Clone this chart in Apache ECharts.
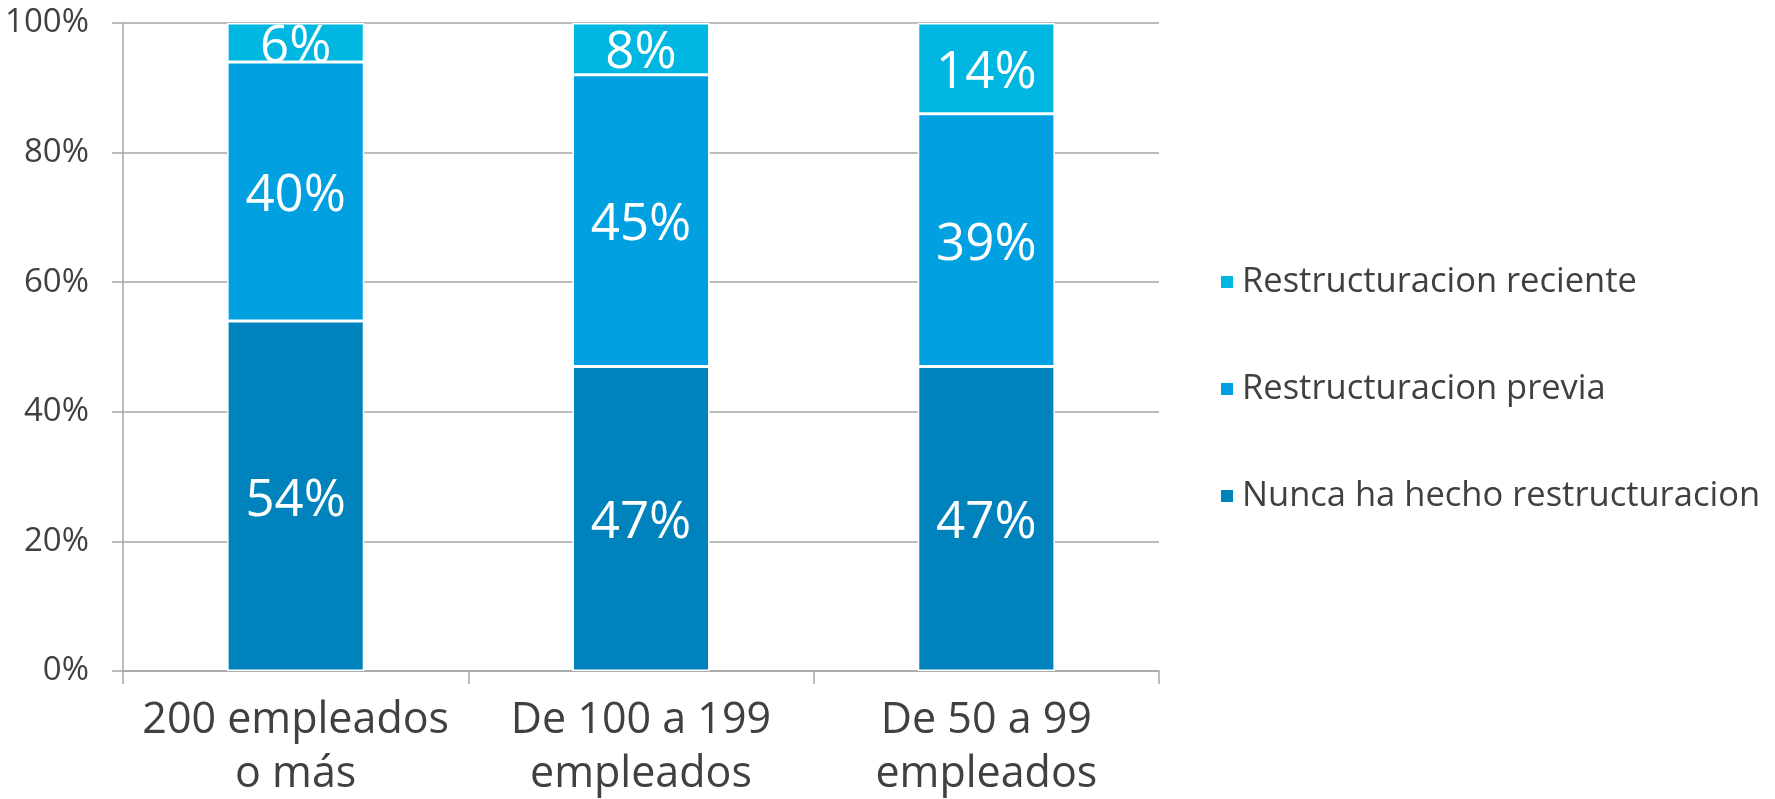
<!DOCTYPE html>
<html>
<head>
<meta charset="utf-8">
<script src="https://cdn.jsdelivr.net/npm/echarts@6/dist/echarts.min.js"></script>
<style>
html,body{margin:0;padding:0;background:#fff;}
#c{width:1775px;height:799px;}
</style>
</head>
<body>
<div id="c"></div>
<script>
const categories = ['200 empleados\no más', 'De 100 a 199\nempleados', 'De 50 a 99\nempleados'];
const nunca = [54, 47, 47];
const previa = [40, 45, 39];
const reciente = [6, 8, 14];
const yTicks = [0, 20, 40, 60, 80, 100];

const seriesNames = ['Nunca ha hecho restructuracion', 'Restructuracion previa', 'Restructuracion reciente'];
const colors = ['#0083BD', '#00A0E1', '#00B7E1'];
const FONT = '"Open Sans", sans-serif';

const chart = echarts.init(document.getElementById('c'));
const mk = (name, data, color) => ({
  name, type: 'bar', stack: 'all', data,
  barWidth: '39.7%',
  itemStyle: { color, borderColor: '#fff', borderWidth: 1.5 },
  label: { show: true, position: 'inside', offset: [0, 5], formatter: '{c}%', color: '#fff', fontSize: 51, fontFamily: FONT }
});
chart.setOption({
  animation: false,
  grid: { left: 123, right: 616, top: 23, bottom: 128, containLabel: false, outerBoundsMode: 'none' },
  legend: {
    orient: 'vertical', left: 1214, top: 259,
    data: [seriesNames[2], seriesNames[1], seriesNames[0]],
    itemWidth: 14, itemHeight: 14, itemGap: 71,
    icon: 'rect',
    textStyle: { fontSize: 34.5, color: '#404040', fontFamily: FONT, lineHeight: 36, padding: [0, 0, 0, 3] }
  },
  xAxis: {
    type: 'category', data: categories,
    axisLine: { lineStyle: { color: '#A6A6A6', width: 1.5 } },
    axisTick: { show: true, interval: 0, length: 13, lineStyle: { color: '#A6A6A6', width: 1.5 } },
    axisLabel: { interval: 0, fontSize: 43, color: '#404040', fontFamily: FONT, lineHeight: 54, margin: 23 }
  },
  yAxis: {
    type: 'value', min: 0, max: 100, interval: 20,
    axisLine: { show: true, lineStyle: { color: '#A6A6A6', width: 1.5 } },
    axisTick: { show: true, length: 11, lineStyle: { color: '#A6A6A6', width: 1.5 } },
    splitLine: { lineStyle: { color: '#A6A6A6', width: 1.5 } },
    axisLabel: {
      fontSize: 33, color: '#404040', fontFamily: FONT, margin: 34,
      formatter: v => (yTicks.indexOf(v) >= 0 ? v + '%' : '')
    }
  },
  series: [mk(seriesNames[0], nunca, colors[0]), mk(seriesNames[1], previa, colors[1]), mk(seriesNames[2], reciente, colors[2])]
});
</script>
</body>
</html>
